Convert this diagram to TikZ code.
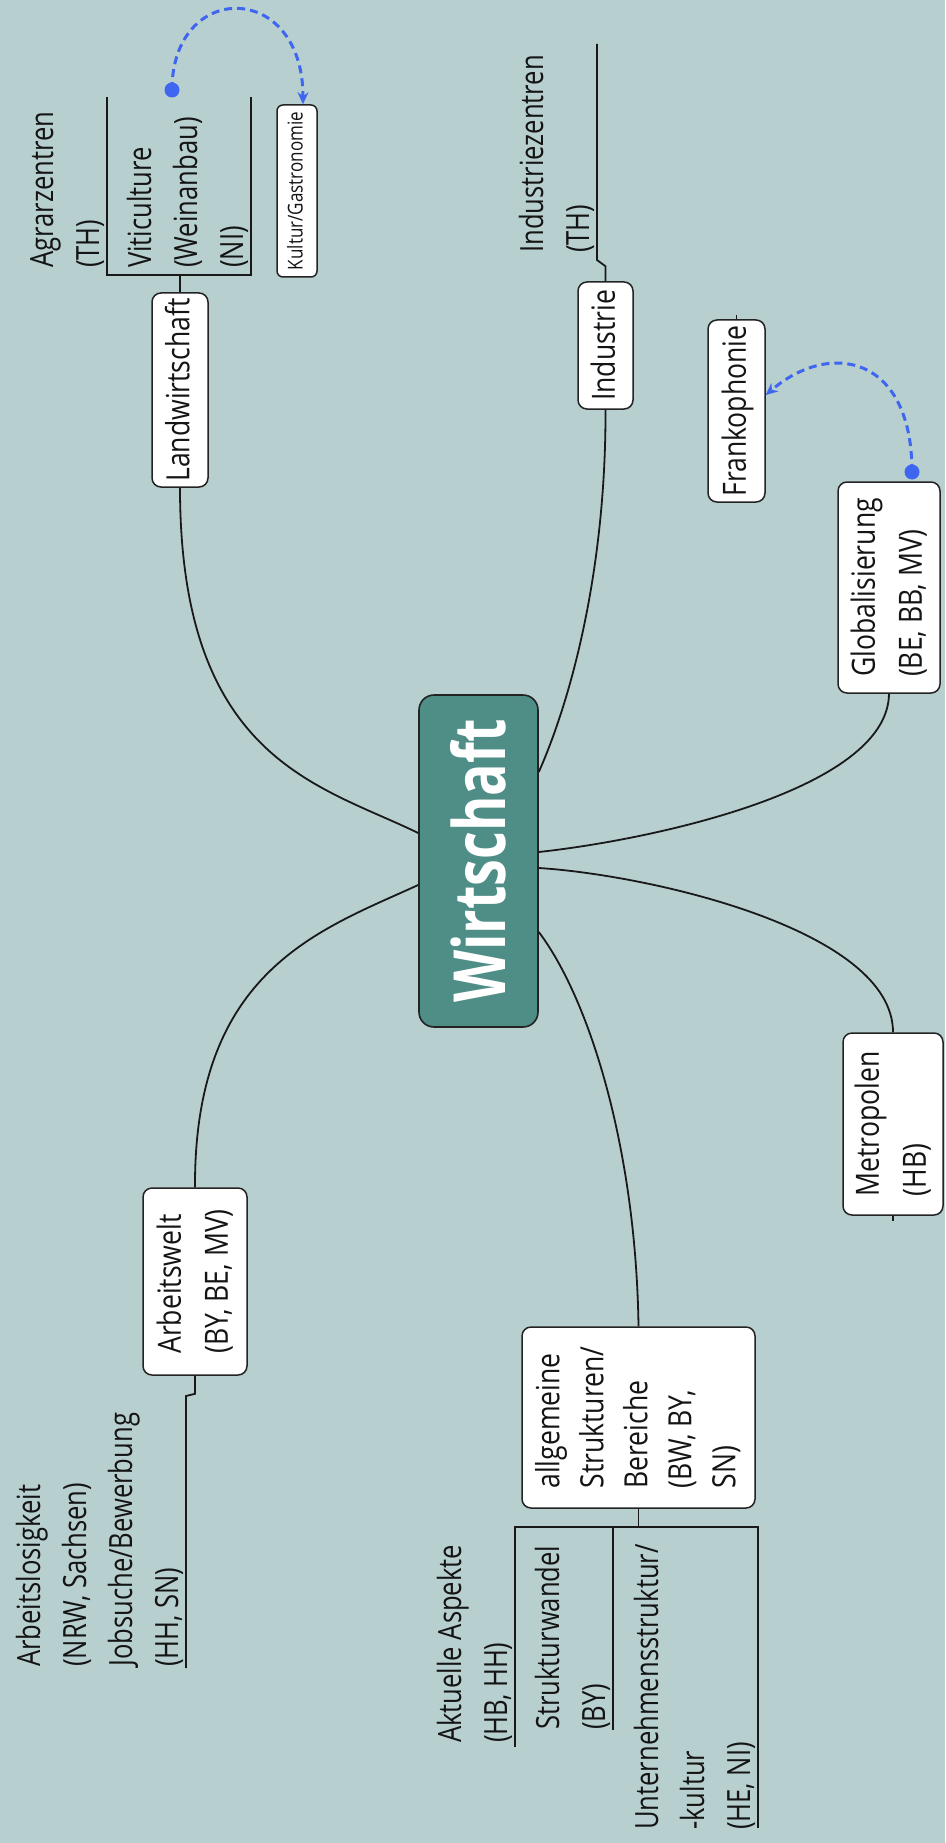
\documentclass[tikz,border=0pt]{standalone}
\usepackage{fontspec}
\usepackage{graphicx}
\newfontfamily\lab[FakeStretch=0.83]{Open Sans}
\newfontfamily\labn[FakeStretch=0.8]{Open Sans}
\newfontfamily\wfont[FakeStretch=0.75]{Open Sans}
\usetikzlibrary{arrows.meta}
\definecolor{bg}{RGB}{184,207,207}
\definecolor{tealfill}{RGB}{78,142,134}
\definecolor{lnk}{RGB}{62,102,240}
\definecolor{edge}{RGB}{35,35,35}
\newcommand{\rt}[1]{\rotatebox{90}{\begin{tabular}{@{}l@{}}#1\end{tabular}}}
\begin{document}
\begin{tikzpicture}[x=1pt,y=-1pt,
  box/.style={draw=edge, line width=1.5pt, fill=white, rounded corners=9pt, inner sep=0pt,
    text=black!92, font=\lab\fontsize{32}{47}\selectfont},
  smallbox/.style={box, rounded corners=6pt, font=\lab\fontsize{20.5}{28}\selectfont},
  wbox/.style={draw=edge, line width=1.6pt, fill=tealfill, rounded corners=15pt, inner sep=0pt,
    text=white, font=\wfont\bfseries\fontsize{72}{80}\selectfont},
  txt/.style={inner sep=0pt, anchor=south east, text=black!92, font=\labn\fontsize{32}{46}\selectfont},
  conn/.style={draw=black!90, line width=1.8pt},
  rel/.style={draw=lnk, line width=3pt, dash pattern=on 8pt off 5pt, -{Stealth[length=12pt,width=11pt]}}
]
\fill[bg] (0,0) rectangle (945,1843);
\useasboundingbox (0,0) rectangle (945,1843);

% main topic
\node[wbox, minimum width=119, minimum height=332] (W) at (478.5,861) {\rotatebox{90}{Wirtschaft}};

% boxes
\node[box, minimum width=56, minimum height=194] (L) at (180,390) {\rt{Landwirtschaft}};
\node[smallbox, minimum width=40, minimum height=172] (K) at (297,191) {\rt{Kultur/Gastronomie}};
\node[box, minimum width=55, minimum height=127] (I) at (605.5,345.5) {\rt{Industrie}};
\node[box, minimum width=57, minimum height=182] (F) at (736.5,411) {\rt{Frankophonie}};
\node[box, minimum width=102, minimum height=211] (G) at (889,587.5) {\rt{Globalisierung\\(BE, BB, MV)}};
\node[box, minimum width=100, minimum height=182] (M) at (893,1124) {\rt{Metropolen\\(HB)}};
\node[box, minimum width=104, minimum height=187] (Ar) at (195,1281.5) {\rt{Arbeitswelt\\(BY, BE, MV)}};
\node[box, minimum width=233, minimum height=181, font=\lab\fontsize{32}{44}\selectfont] (A) at (638.5,1417.5) {\rt{allgemeine\\Strukturen/\\Bereiche\\(BW, BY,\\SN)}};

% sub-topic texts
\node[txt] (agr) at (113,268) {\rt{Agrarzentren\\(TH)}};
\node[txt] (viti) at (257,268) {\rt{Viticulture\\(Weinanbau)\\(NI)}};
\node[txt] (indz) at (603,253) {\rt{Industriezentren\\(TH)}};
\node[txt] (arbl) at (192,1667) {\rt{Arbeitslosigkeit\\(NRW, Sachsen)\\Jobsuche/Bewerbung\\(HH, SN)}};
\node[txt] (akt) at (521,1743) {\rt{Aktuelle Aspekte\\(HB, HH)}};
\node[txt] (struk) at (619,1730) {\rt{Strukturwandel\\(BY)}};
\node[txt] (unt) at (764,1830) {\rt{Unternehmensstruktur/\\-kultur\\(HE, NI)}};

% underline coordinates
\coordinate (agrTop) at (107,97);
\coordinate (agrBot) at (107,275);
\coordinate (vitBot) at (251,275);
\coordinate (vitTop) at (251,97);
\coordinate (indBot) at (597,260);
\coordinate (indTop) at (597,44);
\coordinate (arbTop) at (186,1396);
\coordinate (arbBot) at (186,1668);
\coordinate (aktTop) at (515,1527);
\coordinate (aktBot) at (515,1747);
\coordinate (strTop) at (613,1527);
\coordinate (strBot) at (613,1730);
\coordinate (untTop) at (758,1527);
\coordinate (untBot) at (758,1828);
\coordinate (vdot) at (172,90);
\coordinate (gdot) at (912,472);

% main curves
\draw[conn] ([yshift=28pt]W.west) .. controls (320,785) and (180,760) .. (L.south);
\draw[conn] ([yshift=-24pt]W.west) .. controls (320,930) and (194,970) .. (Ar.north);
\draw[conn] ([yshift=89pt]W.east) .. controls (575,690) and (606,560) .. (I.south);
\draw[conn] ([yshift=9pt]W.east) .. controls (650,840) and (888,790) .. (G.south);
\draw[conn] ([yshift=-7pt]W.east) .. controls (650,875) and (893,930) .. (M.north);
\draw[conn] ([yshift=-71pt]W.east) .. controls (590,1000) and (636,1150) .. (A.north);

% underlines
\draw[conn] (L.north) -- (L.north |- agrBot);
\draw[conn] (agrTop) -- (agrBot) -- (vitBot) -- (vitTop);
\draw[conn] (I.north) -- ++(0,-15) -- (indBot) -- (indTop);
\draw[conn] (Ar.south) -- ++(0,18) -- (arbTop) -- (arbBot);
\draw[conn] (A.south) -- (A.south |- aktTop);
\draw[conn] (aktBot) -- (aktTop) -- (untTop) -- (untBot);
\draw[conn] (strTop) -- (strBot);
\draw[conn] (F.north) -- ++(0,-4);
\draw[conn] (M.south) -- ++(0,5);

% relationship arrows
\draw[rel] (vdot) .. controls (172,-20) and (303,-20) .. ([xshift=6pt]K.north);
\fill[lnk] (vdot) circle (7.5pt);
\draw[rel] (gdot) .. controls (912,355) and (830,340) .. ([yshift=16pt]F.east);
\fill[lnk] (gdot) circle (7.5pt);
\end{tikzpicture}
\end{document}
